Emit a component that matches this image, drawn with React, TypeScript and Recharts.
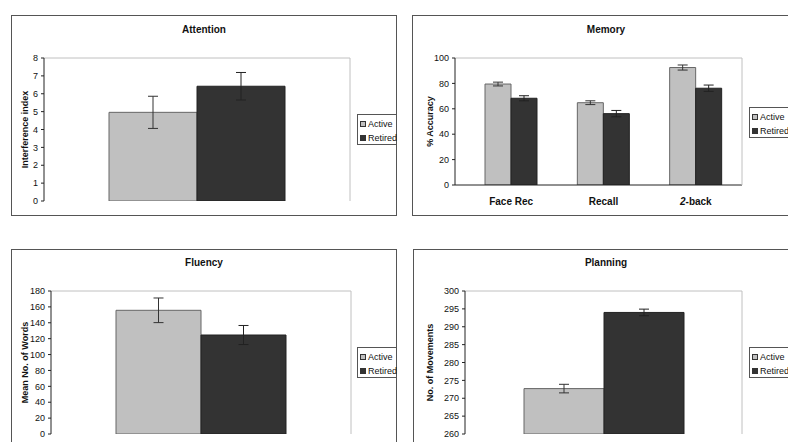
import React from "react";
import { Bar, BarChart, ErrorBar, XAxis, YAxis } from "recharts";

const groups = ["Active", "Retired"];

const attentionMeans = [4.96, 6.42];
const attentionErrors = [0.9, 0.77];
const attentionTicks = [0, 1, 2, 3, 4, 5, 6, 7, 8];

const memoryTasks = ["Face Rec", "Recall", "2-back"];
const memoryActive = [79.5, 64.8, 92.5];
const memoryActiveErr = [1.5, 1.5, 2];
const memoryRetired = [68.3, 56.2, 76.2];
const memoryRetiredErr = [2, 2.5, 2.5];
const memoryTicks = [0, 20, 40, 60, 80, 100];

const fluencyMeans = [155.7, 124.6];
const fluencyErrors = [15.5, 12];
const fluencyTicks = [0, 20, 40, 60, 80, 100, 120, 140, 160, 180];

const planningMeans = [272.7, 294.0];
const planningErrors = [1.2, 0.93];
const planningTicks = [260, 265, 270, 275, 280, 285, 290, 295, 300];

const FONT = '"Liberation Sans", Arial, sans-serif';
const ACTIVE_FILL = "#c0c0c0";
const RETIRED_FILL = "#333333";

function twoGroupRow(means: number[], errors: number[]) {
  return [
    {
      name: "",
      active: means[0],
      activeErr: errors[0],
      retired: means[1],
      retiredErr: errors[1],
    },
  ];
}

const memoryData = memoryTasks.map((task, i) => ({
  name: task,
  active: memoryActive[i],
  activeErr: memoryActiveErr[i],
  retired: memoryRetired[i],
  retiredErr: memoryRetiredErr[i],
}));

function LegendBox({ left, top }: { left: number; top: number }) {
  const fills = [ACTIVE_FILL, RETIRED_FILL];
  return (
    <div
      style={{
        position: "absolute",
        left,
        top,
        width: 40,
        height: 31,
        boxSizing: "border-box",
        border: "1px solid #555",
        background: "#fff",
        fontFamily: FONT,
        fontSize: 9,
        color: "#111",
        whiteSpace: "nowrap",
      }}
    >
      {groups.map((g, i) => (
        <div
          key={g}
          style={{ position: "absolute", left: 2, top: 3 + i * 14, height: 12, lineHeight: "12px" }}
        >
          <span
            style={{
              display: "inline-block",
              width: 4,
              height: 4,
              border: "1px solid #333",
              background: fills[i],
              marginRight: 2,
              verticalAlign: "middle",
              position: "relative",
              top: -1,
            }}
          />
          {g}
        </div>
      ))}
    </div>
  );
}

function TaskTick(props: any) {
  const { x, y, payload } = props;
  const v: string = String(payload.value);
  const m = /^(\d+)(.*)$/.exec(v);
  return (
    <text x={x} y={y + 18} textAnchor="middle" fontSize={10} fontWeight="bold" fontFamily={FONT} fill="#111">
      {m ? (
        <>
          <tspan fontStyle="italic">{m[1]}</tspan>
          <tspan>{m[2]}</tspan>
        </>
      ) : (
        v
      )}
    </text>
  );
}

type PanelProps = {
  title: string;
  yLabel: string;
  left: number;
  top: number;
  width: number;
  titleY: number;
  data: any[];
  ticks: number[];
  margin: { top: number; right: number; bottom: number; left: number };
  yWidth: number;
  labelX: number;
  gap: number;
  xHeight: number;
  xPadLeft?: number;
  categoryTicks?: boolean;
  legend: { left: number; top: number };
};

function Panel(p: PanelProps) {
  const H = 201;
  const domain = [p.ticks[0], p.ticks[p.ticks.length - 1]];
  const tickStyle = { fontSize: 9, fill: "#111", fontFamily: FONT };
  // 1px top/right axes draw the light plot-area frame, so trim the margins by 1
  const margin = { ...p.margin, top: p.margin.top - 1, right: p.margin.right - 1 };
  return (
    <>
      <div
        style={{
          position: "absolute",
          left: p.left,
          top: p.top,
          width: p.width,
          height: H,
          boxSizing: "border-box",
          border: "1px solid #555",
          background: "#fff",
        }}
      />
      <div
        style={{
          position: "absolute",
          left: p.left,
          top: p.top + p.titleY - 7,
          width: p.width,
          textAlign: "center",
          fontFamily: FONT,
          fontWeight: "bold",
          fontSize: 10,
          lineHeight: "14px",
          color: "#111",
        }}
      >
        {p.title}
      </div>
      <div style={{ position: "absolute", left: p.left, top: p.top }}>
        <BarChart
          width={p.width}
          height={H}
          data={p.data}
          margin={margin}
          barGap={0}
          barCategoryGap={p.gap}
        >
          <XAxis
            dataKey="name"
            height={p.xHeight}
            padding={{ left: p.xPadLeft ?? 0, right: 0 }}
            axisLine={{ stroke: "#222" }}
            tickLine={false}
            tickSize={0}
            tick={p.categoryTicks ? <TaskTick /> : false}
            interval={0}
          />
          <XAxis
            xAxisId="top"
            orientation="top"
            dataKey="name"
            height={1}
            tick={false}
            tickLine={false}
            axisLine={{ stroke: "#c0c0c0" }}
          />
          <YAxis
            width={p.yWidth}
            domain={domain}
            ticks={p.ticks}
            interval={0}
            allowDataOverflow
            tickSize={3}
            tickMargin={3}
            tick={tickStyle}
            tickLine={{ stroke: "#222" }}
            axisLine={{ stroke: "#222" }}
            label={{
              value: p.yLabel,
              angle: -90,
              position: "insideLeft",
              offset: p.labelX,
              style: { textAnchor: "middle", fontWeight: "bold", fontSize: 9, fill: "#111", fontFamily: FONT },
            }}
          />
          <YAxis
            yAxisId="right"
            orientation="right"
            width={1}
            domain={domain}
            tick={false}
            tickLine={false}
            axisLine={{ stroke: "#c0c0c0" }}
          />
          <Bar dataKey="active" name={groups[0]} fill={ACTIVE_FILL} stroke="#666" strokeWidth={1} isAnimationActive={false}>
            <ErrorBar dataKey="activeErr" width={5} stroke="#333" strokeWidth={1} isAnimationActive={false} />
          </Bar>
          <Bar dataKey="retired" name={groups[1]} fill={RETIRED_FILL} stroke="#222" strokeWidth={1} isAnimationActive={false}>
            <ErrorBar dataKey="retiredErr" width={5} stroke="#222" strokeWidth={1} isAnimationActive={false} />
          </Bar>
        </BarChart>
      </div>
      <LegendBox left={p.legend.left} top={p.legend.top} />
    </>
  );
}

export default function App() {
  return (
    <div
      style={{
        position: "absolute",
        left: 0,
        top: 0,
        width: 788,
        height: 442,
        overflow: "hidden",
        background: "#fff",
      }}
    >
      <Panel
        title="Attention"
        yLabel="Interference index"
        left={11}
        top={15}
        width={386}
        titleY={15}
        data={twoGroupRow(attentionMeans, attentionErrors)}
        ticks={attentionTicks}
        margin={{ top: 43, right: 47, bottom: 15, left: 0 }}
        yWidth={33}
        labelX={14}
        gap={65}
        xHeight={0}
        legend={{ left: 357, top: 114 }}
      />
      <Panel
        title="Memory"
        yLabel="% Accuracy"
        left={412}
        top={15}
        width={388}
        titleY={15}
        data={memoryData}
        ticks={memoryTicks}
        margin={{ top: 43, right: 58, bottom: 0, left: 0 }}
        yWidth={43}
        labelX={18}
        gap={20}
        xHeight={31}
        xPadLeft={10}
        categoryTicks
        legend={{ left: 749, top: 107 }}
      />
      <Panel
        title="Fluency"
        yLabel="Mean No. of Words"
        left={11}
        top={249}
        width={386}
        titleY={14}
        data={twoGroupRow(fluencyMeans, fluencyErrors)}
        ticks={fluencyTicks}
        margin={{ top: 42, right: 46, bottom: 16, left: 0 }}
        yWidth={40}
        labelX={14}
        gap={65}
        xHeight={0}
        legend={{ left: 357, top: 347 }}
      />
      <Panel
        title="Planning"
        yLabel="No. of Movements"
        left={413}
        top={249}
        width={386}
        titleY={14}
        data={twoGroupRow(planningMeans, planningErrors)}
        ticks={planningTicks}
        margin={{ top: 42, right: 57, bottom: 16, left: 0 }}
        yWidth={52}
        labelX={17}
        gap={59}
        xHeight={0}
        legend={{ left: 749, top: 347 }}
      />
    </div>
  );
}
